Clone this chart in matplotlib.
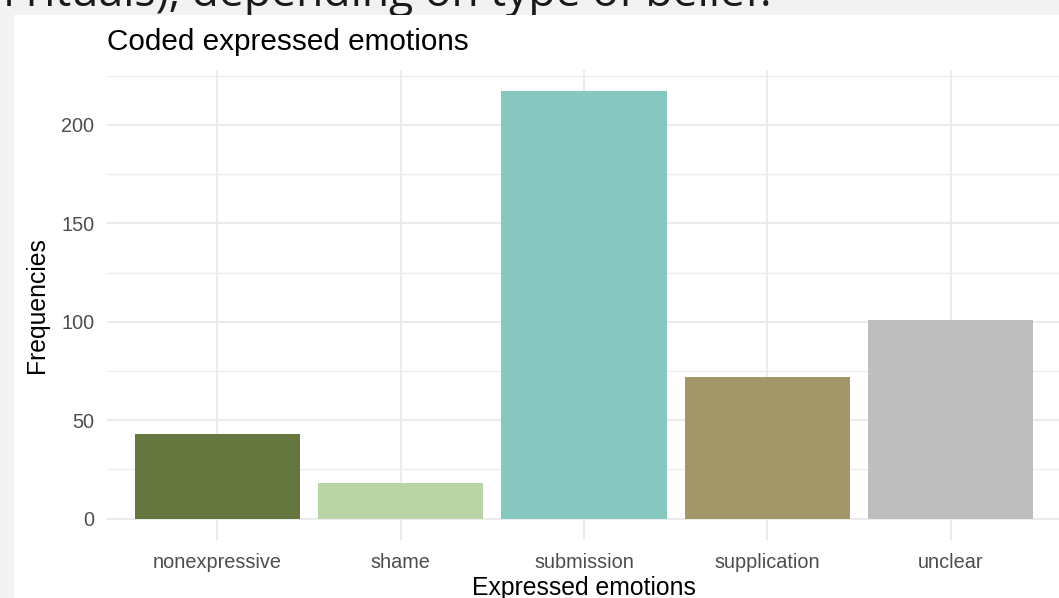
import matplotlib
matplotlib.use("Agg")
import matplotlib.pyplot as plt
from matplotlib.patches import Rectangle
from matplotlib.ticker import MultipleLocator

categories = ["nonexpressive", "shame", "submission", "supplication", "unclear"]
frequencies = [43, 18, 217, 72, 101]
bar_colors = ["#66763F", "#B9D5A5", "#86C8C0", "#A3976A", "#BEBEBE"]
y_ticks = [0, 50, 100, 150, 200]

plt.rcParams['font.family'] = ['Liberation Sans', 'DejaVu Sans']

W, H = 1059, 598
fig = plt.figure(figsize=(W / 100, H / 100), dpi=100)
fig.patch.set_facecolor("#F2F2F2")

# partially visible slide heading
fig.text(772 / W, 1 - 6 / H, "in rituals), depending on type of belief.", ha="right", va="baseline",
         fontsize=32, color="#1a1a1a", family=["Open Sans", "DejaVu Sans"], zorder=-6)
# white slide panel
fig.patches.append(Rectangle((14 / W, 0), 1 - 14 / W, 1 - 15 / H, transform=fig.transFigure,
                             facecolor="white", edgecolor="none", zorder=-5))

ax = fig.add_axes([107 / W, 1 - 540 / H, (1061 - 107) / W, (540 - 70) / H], zorder=2)
ax.set_facecolor("white")
x = list(range(len(categories)))
ax.bar(x, frequencies, width=0.9, color=bar_colors, zorder=3)

ax.set_xlim(-0.6, len(categories) - 0.4)
ymax = max(frequencies)
ax.set_ylim(-0.05 * ymax, ymax * 1.05)
ax.set_yticks(y_ticks)
ax.yaxis.set_minor_locator(MultipleLocator(25))
ax.set_xticks(x)
ax.set_xticklabels(categories)

ax.grid(True, which="major", color="#EBEBEB", linewidth=1.4, zorder=0)
ax.grid(True, which="minor", axis="y", color="#EBEBEB", linewidth=0.8, zorder=0)
for s in ax.spines.values():
    s.set_visible(False)
ax.tick_params(axis="both", which="both", length=0, labelsize=14.3, colors="#4D4D4D")
ax.tick_params(axis="x", pad=9)
ax.tick_params(axis="y", pad=9)

ax.set_xlabel("Expressed emotions", fontsize=17.8, color="black", labelpad=3)
ax.set_ylabel("Frequencies", fontsize=17.8, color="black", labelpad=9)
fig.text(107 / W, 1 - 50 / H, "Coded expressed emotions", fontsize=21.4, color="black",
         ha="left", va="baseline")

fig.savefig("out.png", dpi=100, facecolor=fig.get_facecolor())
